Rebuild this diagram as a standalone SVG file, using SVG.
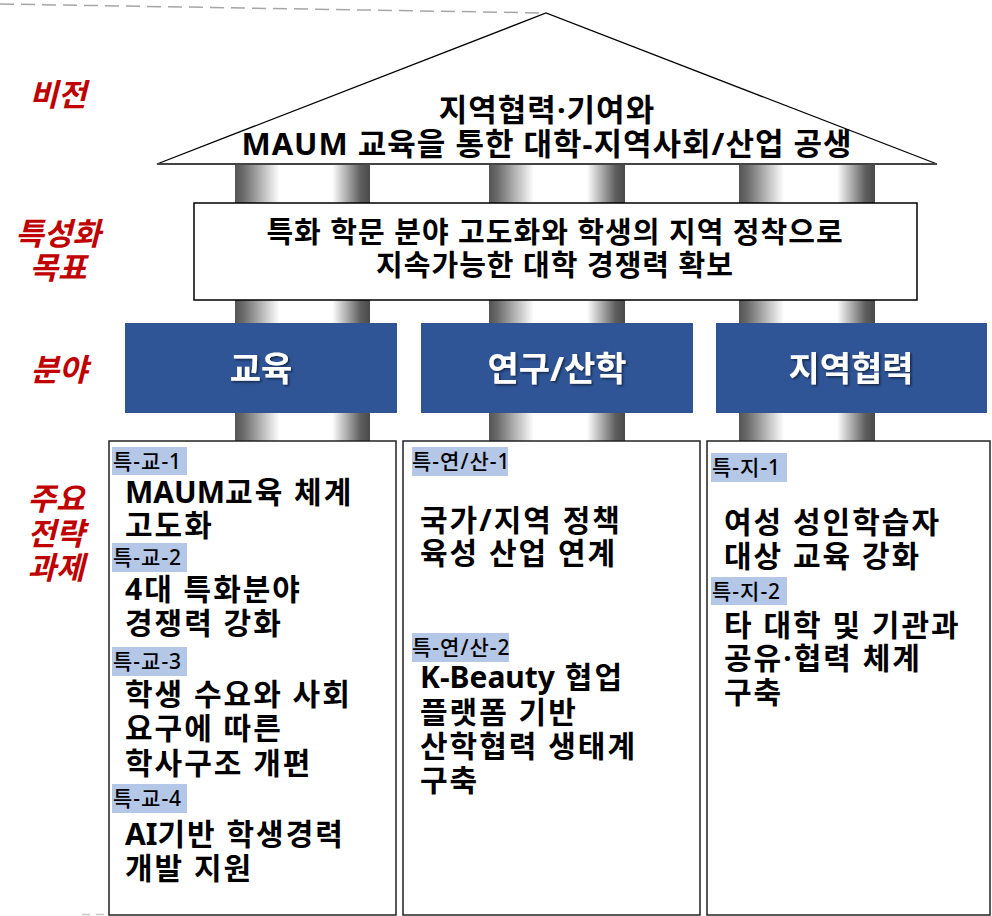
<svg xmlns="http://www.w3.org/2000/svg" width="992" height="916" viewBox="0 0 992 916">
<defs>
<linearGradient id="pillar" x1="0" y1="0" x2="1" y2="0">
<stop offset="0" stop-color="#555"/>
<stop offset="0.06" stop-color="#6a6a6a"/>
<stop offset="0.33" stop-color="#fff"/>
<stop offset="0.72" stop-color="#fff"/>
<stop offset="0.93" stop-color="#5e5e5e"/>
<stop offset="1" stop-color="#4a4a4a"/>
</linearGradient>
<filter id="shadow" x="-10%" y="-10%" width="130%" height="140%">
<feDropShadow dx="1.5" dy="1.5" stdDeviation="1" flood-color="#000" flood-opacity="0.55"/>
</filter>
</defs>
<style>
text{font-family:"Noto Sans","Noto Sans CJK KR",sans-serif;fill:#000}
.side{font-size:31px;font-weight:bold;font-style:italic;fill:#C00000;text-anchor:middle}
.roof{font-size:31px;font-weight:bold;text-anchor:middle;letter-spacing:1px}
.goal{font-size:29px;font-weight:bold;text-anchor:middle;letter-spacing:1px}
.field{fill:#2F5597}
.ftext{font-size:34px;font-weight:bold;fill:#fff;text-anchor:middle;filter:url(#shadow)}
.task{fill:#fff;stroke:#222;stroke-width:1.5}
.tag{fill:#B4C7E7}
.tagt{font-size:21px;font-weight:500;letter-spacing:1px}
.body{font-size:30px;font-weight:bold;letter-spacing:2px}
.lat{letter-spacing:0}
.pillar{fill:url(#pillar)}
</style>

<g id="guides">
<line x1="0" y1="4" x2="546" y2="13" stroke="#A6A6A6" stroke-width="1.5" stroke-dasharray="14 7"/>
<line x1="82" y1="914.5" x2="104" y2="914.5" stroke="#C8C8C8" stroke-width="1.5" stroke-dasharray="8 6"/>
</g>

<g id="pillars">
<rect class="pillar" x="235" y="160" width="135" height="285"/>
<rect class="pillar" x="489" y="160" width="136" height="285"/>
<rect class="pillar" x="739" y="160" width="136" height="285"/>
</g>

<g id="side-labels">
<text class="side" x="58" y="106">비전</text>
<text class="side" x="58" y="245">특성화</text>
<text class="side" x="58" y="279">목표</text>
<text class="side" x="59" y="381">분야</text>
<text class="side" x="56" y="510">주요</text>
<text class="side" x="56" y="545">전략</text>
<text class="side" x="56" y="579">과제</text>
</g>

<g id="roof">
<polygon points="157,164 546,13 937,164" fill="#fff" stroke="#000" stroke-width="1.3" stroke-linejoin="miter"/>
<line x1="157" y1="164" x2="937" y2="164" stroke="#444" stroke-width="2"/>
<text class="roof" x="547" y="121">지역협력·기여와</text>
<text class="roof" x="547" y="155">MAUM 교육을 통한 대학-지역사회/산업 공생</text>
</g>

<g id="goal">
<rect x="194" y="203" width="723" height="97" fill="#fff" stroke="#000" stroke-width="1.5"/>
<text class="goal" x="555" y="243">특화 학문 분야 고도화와 학생의 지역 정착으로</text>
<text class="goal" x="555" y="276">지속가능한 대학 경쟁력 확보</text>
</g>

<g id="field-edu">
<rect class="field" x="125" y="323" width="272" height="90"/>
<text class="ftext" x="261" y="381">교육</text>
</g>
<g id="field-research">
<rect class="field" x="421" y="323" width="272" height="90"/>
<text class="ftext" x="557" y="381">연구/산학</text>
</g>
<g id="field-region">
<rect class="field" x="716" y="323" width="271" height="90"/>
<text class="ftext" x="851" y="381">지역협력</text>
</g>

<g id="tasks-edu">
<rect class="task" x="109" y="441" width="287" height="474"/>
<rect class="tag" x="112" y="447" width="75" height="28"/>
<text class="tagt" x="113" y="469">특-교-1</text>
<text class="body" x="125" y="503"><tspan class="lat">MAUM</tspan>교육 체계</text>
<text class="body" x="125" y="536">고도화</text>
<rect class="tag" x="112" y="543" width="75" height="29"/>
<text class="tagt" x="113" y="565">특-교-2</text>
<text class="body" x="125" y="600">4대 특화분야</text>
<text class="body" x="125" y="634">경쟁력 강화</text>
<rect class="tag" x="112" y="647" width="75" height="29"/>
<text class="tagt" x="113" y="669">특-교-3</text>
<text class="body" x="125" y="705">학생 수요와 사회</text>
<text class="body" x="125" y="739">요구에 따른</text>
<text class="body" x="125" y="774">학사구조 개편</text>
<rect class="tag" x="112" y="784" width="75" height="29"/>
<text class="tagt" x="113" y="806">특-교-4</text>
<text class="body" x="125" y="845"><tspan class="lat">AI</tspan>기반 학생경력</text>
<text class="body" x="125" y="879">개발 지원</text>
</g>

<g id="tasks-research">
<rect class="task" x="403" y="441" width="297" height="474"/>
<rect class="tag" x="412" y="447" width="96" height="29"/>
<text class="tagt" x="412" y="469">특-연/산-1</text>
<text class="body" x="420" y="531">국가/지역 정책</text>
<text class="body" x="420" y="564">육성 산업 연계</text>
<rect class="tag" x="412" y="633" width="97" height="29"/>
<text class="tagt" x="412" y="655">특-연/산-2</text>
<text class="body" x="420" y="688"><tspan class="lat">K-Beauty</tspan> 협업</text>
<text class="body" x="420" y="723">플랫폼 기반</text>
<text class="body" x="420" y="757">산학협력 생태계</text>
<text class="body" x="420" y="791">구축</text>
</g>

<g id="tasks-region">
<rect class="task" x="707" y="441" width="283" height="474"/>
<rect class="tag" x="711" y="453" width="76" height="29"/>
<text class="tagt" x="712" y="475">특-지-1</text>
<text class="body" x="724" y="533">여성 성인학습자</text>
<text class="body" x="724" y="567">대상 교육 강화</text>
<rect class="tag" x="711" y="577" width="76" height="28"/>
<text class="tagt" x="712" y="599">특-지-2</text>
<text class="body" x="724" y="636">타 대학 및 기관과</text>
<text class="body" x="724" y="669">공유·협력 체계</text>
<text class="body" x="724" y="703">구축</text>
</g>
</svg>
